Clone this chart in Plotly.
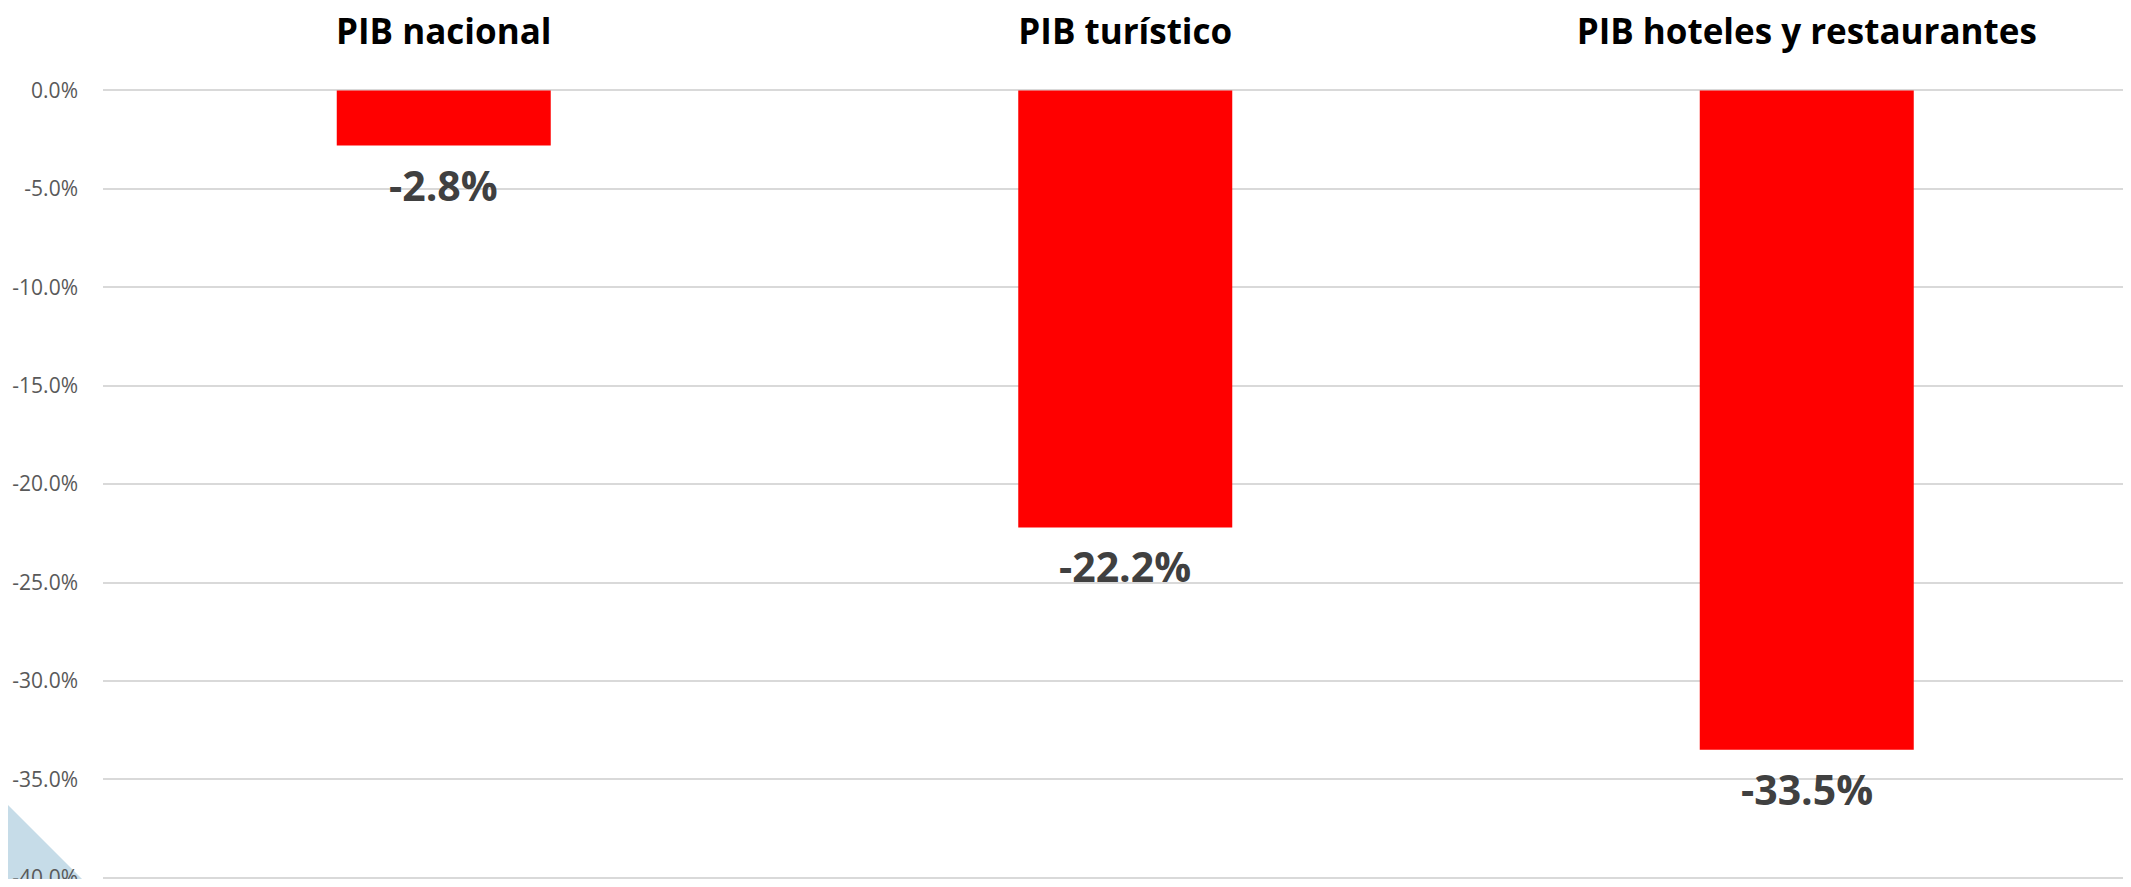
import plotly.graph_objects as go

categories = ["PIB nacional", "PIB turístico", "PIB hoteles y restaurantes"]
values = [-2.8, -22.2, -33.5]
tick_vals = [0, -5, -10, -15, -20, -25, -30, -35, -40]
tick_text = ["0.0%", "-5.0%", "-10.0%", "-15.0%", "-20.0%", "-25.0%", "-30.0%", "-35.0%", "-40.0%"]
labels = [f"{v:.1f}%" for v in values]

# page body has an 8px margin on every side: size figure so no scrollbars appear
OFF = 8
W, H = 2131 - 2 * OFF, 887 - 2 * OFF
ML, MR, MT, MB = 103 - OFF, 0, 90 - OFF, 0

fig = go.Figure()
fig.add_trace(go.Bar(
    x=categories, y=values, width=0.314,
    marker=dict(color="#ff0000", line=dict(width=0)),
    hoverinfo="skip",
))

for c, v, t in zip(categories, values, labels):
    fig.add_annotation(
        x=c, y=v, xref="x", yref="y", text=f"<b>{t}</b>", showarrow=False,
        yanchor="top", xanchor="center", yshift=-9,
        font=dict(family="Open Sans", size=41, color="#404040"),
    )

# decorative corner shape (slide background)
pw = W - ML - MR
ph = H - MT - MB
def px(xs):
    return (xs - OFF - ML) / pw
def py(ys):
    return (H - MB - (ys - OFF)) / ph
fig.add_shape(
    type="path", xref="paper", yref="paper", layer="below",
    path=f"M {px(0)} {py(797)} L {px(92)} {py(889)} L {px(0)} {py(889)} Z",
    fillcolor="#c6dce8", line=dict(width=0),
)

span = (W - ML - MR) / 681.5
fig.update_layout(
    width=W, height=H,
    margin=dict(l=ML, r=MR, t=MT, b=MB),
    paper_bgcolor="white", plot_bgcolor="white",
    showlegend=False,
    font=dict(family="Open Sans"),
    xaxis=dict(
        type="category", side="top", range=[-0.5, -0.5 + span],
        showgrid=False, zeroline=False, showline=False, ticks="",
        tickfont=dict(family="Open Sans", size=35, color="#000000"),
        ticklabelstandoff=38,
        tickprefix="<b>", ticksuffix="</b>",
    ),
    yaxis=dict(
        range=[-40.06, 0.02], tickvals=tick_vals, ticktext=tick_text,
        showgrid=True, gridcolor="#d9d9d9", gridwidth=2,
        zeroline=True, zerolinecolor="#d9d9d9", zerolinewidth=2,
        showline=False, ticks="", automargin=False,
        ticklabeloverflow="allow",
        tickfont=dict(family="Open Sans", size=21, color="#595959"),
        ticklabelstandoff=24,
    ),
)

fig.write_html("out.html")
